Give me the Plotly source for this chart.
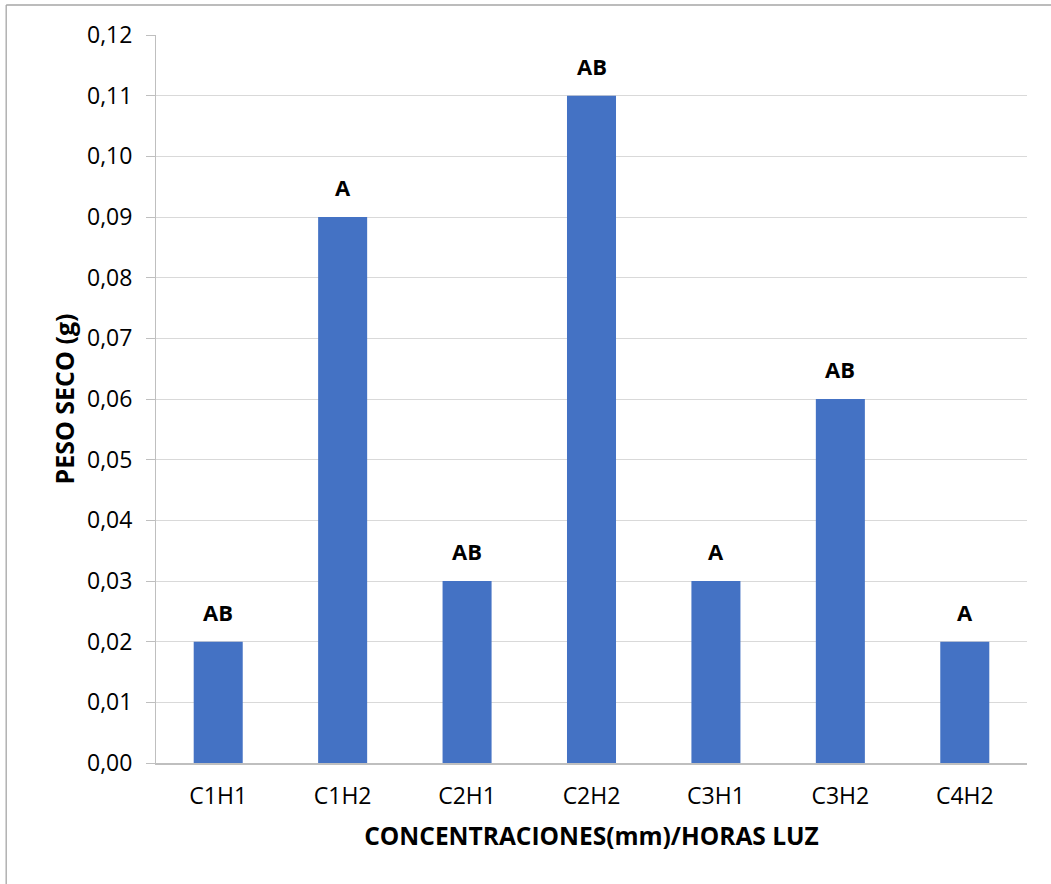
import plotly.graph_objects as go

categories = ["C1H1", "C1H2", "C2H1", "C2H2", "C3H1", "C3H2", "C4H2"]
peso_seco = [0.02, 0.09, 0.03, 0.11, 0.03, 0.06, 0.02]
letters = ["AB", "A", "AB", "AB", "A", "AB", "A"]
y_ticks = [0.00, 0.01, 0.02, 0.03, 0.04, 0.05, 0.06, 0.07, 0.08, 0.09, 0.10, 0.11, 0.12]

FONT = "Open Sans"

fig = go.Figure(go.Bar(
    x=categories, y=peso_seco,
    marker=dict(color="#4472C4", line=dict(width=0)),
))

annotations = [
    dict(x=c, y=v, text=t, xref="x", yref="y", showarrow=False,
         yanchor="bottom", yshift=13,
         font=dict(family=FONT, size=22, color="#000000", weight="bold"))
    for c, v, t in zip(categories, peso_seco, letters)
]

fig.update_layout(
    width=1051, height=884,
    margin=dict(l=156, r=24, t=35, b=121),
    paper_bgcolor="white", plot_bgcolor="white",
    separators=",.",
    bargap=0.606,
    showlegend=False,
    font=dict(family=FONT, size=23, color="#000000"),
    annotations=annotations,
    shapes=[
        dict(type="line", xref="paper", yref="paper", x0=-0.172, x1=1.05, y0=1.0412, y1=1.0412,
             line=dict(color="#A6A6A6", width=1.3)),
        dict(type="line", xref="paper", yref="paper", x0=-0.172, x1=-0.172, y0=1.0412, y1=-0.2,
             line=dict(color="#A6A6A6", width=1.3)),
    ],
)

fig.update_yaxes(
    range=[0, 0.12], tickvals=y_ticks, tickformat=".2f",
    showgrid=True, gridcolor="#D9D9D9", gridwidth=1,
    showline=True, linecolor="#BFBFBF", linewidth=1,
    ticks="outside", ticklen=9, tickcolor="#BFBFBF",
    ticklabelstandoff=9,
    tickfont=dict(family=FONT, size=23, color="#000000"),
    zeroline=False,
    title=dict(text="PESO SECO (g)", font=dict(family=FONT, size=25, color="#000000", weight="bold"), standoff=5),
)
fig.update_xaxes(
    showline=True, linecolor="#BFBFBF", linewidth=1.5,
    ticks="", ticklabelstandoff=12,
    tickfont=dict(family=FONT, size=23, color="#000000"),
    title=dict(text="CONCENTRACIONES(mm)/HORAS LUZ", font=dict(family=FONT, size=24.5, color="#000000", weight="bold"), standoff=18),
)

fig.write_html("out.html")
